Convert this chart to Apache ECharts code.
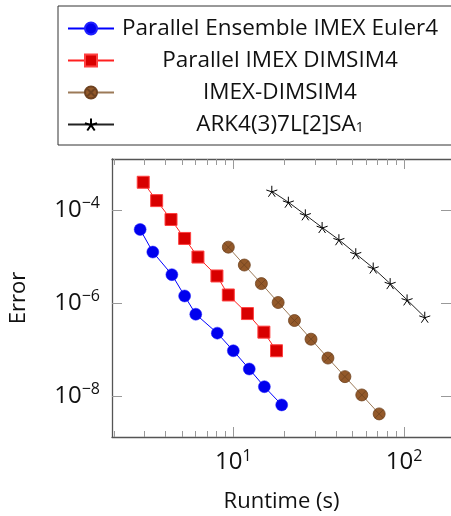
<!DOCTYPE html>
<html>
<head>
<meta charset="utf-8">
<script src="https://cdn.jsdelivr.net/npm/echarts@6/dist/echarts.min.js"></script>
<style>
html,body{margin:0;padding:0;background:#fff;overflow:hidden;}
#chart{width:451px;height:516px;}
</style>
</head>
<body>
<div id="chart"></div>
<script>
// runtimes (s) and errors
var seriesNames = ['Parallel Ensemble IMEX Euler4', 'Parallel IMEX DIMSIM4', 'IMEX-DIMSIM4', 'ARK4(3)7L[2]SA1'];

var euler4Time = [2.85, 3.38, 4.37, 5.19, 6.03, 8.06, 10.0, 12.4, 15.2, 19.2];
var euler4Err = [3.79e-5, 1.24e-5, 4.05e-6, 1.41e-6, 5.71e-7, 2.24e-7, 9.36e-8, 3.79e-8, 1.58e-8, 6.41e-9];

var parDimsimTime = [2.97, 3.56, 4.32, 5.19, 6.21, 8.02, 9.35, 12.1, 15.1, 17.9];
var parDimsimErr = [3.92e-4, 1.58e-4, 6.21e-5, 2.43e-5, 9.68e-6, 3.79e-6, 1.48e-6, 5.9e-7, 2.35e-7, 9.36e-8];

var dimsimTime = [9.35, 11.6, 14.6, 18.3, 22.8, 28.5, 35.8, 45.0, 56.5, 71.4];
var dimsimErr = [1.58e-5, 6.52e-6, 2.6e-6, 1.02e-6, 4.18e-7, 1.66e-7, 6.52e-8, 2.6e-8, 1.05e-8, 4.11e-9];

var arkTime = [16.8, 21.0, 26.4, 33.1, 41.5, 52.1, 65.9, 82.8, 104, 132];
var arkErr = [2.51e-4, 1.46e-4, 7.82e-5, 4.18e-5, 2.28e-5, 1.14e-5, 5.62e-6, 2.6e-6, 1.16e-6, 4.93e-7];

var xMajorTicks = [10, 100];
var xMinorTicks = [2, 3, 4, 5, 6, 7, 8, 9, 20, 30, 40, 50, 60, 70, 80, 90];
var yMajorTicks = [1e-8, 1e-6, 1e-4];

var FONT = 'Open Sans';
var xMin = 1.95, xMax = 188, yMin = 1.31e-9, yMax = 1.24e-3;

function pairs(xs, ys) {
  var out = [];
  for (var i = 0; i < xs.length; i++) out.push([xs[i], ys[i]]);
  return out;
}

function powLabel(v) {
  var e = Math.round(Math.log(v) / Math.LN10);
  var s = e < 0 ? '\u2212' + (-e) : '' + e;
  return '{b|10}{s|' + s + '}';
}

var powRich = {
  b: {fontSize: 24, fontFamily: FONT, color: '#111', lineHeight: 28},
  s: {fontSize: 16, fontFamily: FONT, color: '#111', verticalAlign: 'top', lineHeight: 15}
};

var circlePath = 'path://M0,10 A10,10 0 1,1 20,10 A10,10 0 1,1 0,10 Z M2.93,2.93 L17.07,17.07 M17.07,2.93 L2.93,17.07';
var starPath = 'path://M10,10 L10,0 M10,10 L19.51,6.91 M10,10 L15.88,18.09 M10,10 L4.12,18.09 M10,10 L0.49,6.91';

function xAx(pos, ticks, len, withLine, withLabel) {
  var a = {
    type: 'log', logBase: 10, min: xMin, max: xMax, position: pos,
    axisLine: {show: withLine, lineStyle: {color: '#555', width: 1.3}},
    axisTick: {show: true, inside: true, length: len, customValues: ticks, lineStyle: {color: '#999', width: 1}},
    axisLabel: {show: false},
    splitLine: {show: false}
  };
  if (withLabel) {
    a.axisLabel = {show: true, customValues: ticks, margin: 11, formatter: powLabel, rich: powRich};
    a.name = 'Runtime (s)';
    a.nameLocation = 'middle';
    a.nameGap = 54;
    a.nameTextStyle = {fontFamily: FONT, fontSize: 22, color: '#111'};
  }
  return a;
}

function yAx(pos, withLabel) {
  var a = {
    type: 'log', logBase: 10, min: yMin, max: yMax, position: pos,
    axisLine: {show: withLabel, lineStyle: {color: '#555', width: 1.3}},
    axisTick: {show: true, inside: true, length: 10, customValues: yMajorTicks, lineStyle: {color: '#999', width: 1}},
    axisLabel: {show: false},
    splitLine: {show: false}
  };
  if (withLabel) {
    a.axisLabel = {show: true, customValues: yMajorTicks, margin: 12, formatter: powLabel, rich: powRich};
    a.name = 'Error';
    a.nameLocation = 'middle';
    a.nameGap = 82;
    a.nameTextStyle = {fontFamily: FONT, fontSize: 22, color: '#111'};
  }
  return a;
}

var legendRich = {
  t: {align: 'center', fontFamily: FONT, fontSize: 22.5, color: '#111', lineHeight: 22},
  sub: {align: 'center', fontFamily: FONT, fontSize: 14, color: '#111', verticalAlign: 'bottom', lineHeight: 14}
};

var chart = echarts.init(document.getElementById('chart'));
chart.setOption({
  animation: false,
  backgroundColor: '#fff',
  grid: {show: false, left: 112, top: 159, right: 0, bottom: 79, containLabel: false, outerBoundsMode: 'none'},
  legend: {
    orient: 'vertical', left: 58, top: 6,
    padding: [11, 40, 9, 9], itemGap: 9, itemWidth: 46, itemHeight: 15,
    borderColor: '#333', borderWidth: 1, backgroundColor: '#fff',
    data: seriesNames,
    textStyle: {width: 322, fontFamily: FONT, fontSize: 22.5, rich: legendRich},
    formatter: function (name) {
      if (name === 'ARK4(3)7L[2]SA1') return '{t|ARK4(3)7L[2]SA}{sub|1}';
      return '{t|' + name + '}';
    }
  },
  xAxis: [
    xAx('bottom', xMajorTicks, 10, true, true),
    xAx('bottom', xMinorTicks, 6, false, false),
    xAx('top', xMajorTicks, 10, true, false),
    xAx('top', xMinorTicks, 6, false, false)
  ],
  yAxis: [
    yAx('left', true),
    yAx('right', false)
  ],
  series: [
    {
      name: seriesNames[0], type: 'line', data: pairs(euler4Time, euler4Err),
      symbol: 'circle', symbolSize: 12,
      lineStyle: {color: '#0000ff', width: 1},
      itemStyle: {color: '#0000ee', borderColor: '#2020ff', borderWidth: 0.5}
    },
    {
      name: seriesNames[1], type: 'line', data: pairs(parDimsimTime, parDimsimErr),
      symbol: 'rect', symbolSize: 12,
      lineStyle: {color: '#ff2020', width: 1},
      itemStyle: {color: '#d80000', borderColor: '#ff4040', borderWidth: 1}
    },
    {
      name: seriesNames[2], type: 'line', data: pairs(dimsimTime, dimsimErr),
      symbol: circlePath, symbolSize: 12,
      lineStyle: {color: '#9c7a58', width: 1},
      itemStyle: {color: '#93592a', borderColor: '#6e4220', borderWidth: 0.8}
    },
    {
      name: seriesNames[3], type: 'line', data: pairs(arkTime, arkErr),
      symbol: starPath, symbolSize: 11,
      lineStyle: {color: '#222', width: 1},
      itemStyle: {color: '#000', borderColor: '#000', borderWidth: 1}
    }
  ]
});
</script>
</body>
</html>
